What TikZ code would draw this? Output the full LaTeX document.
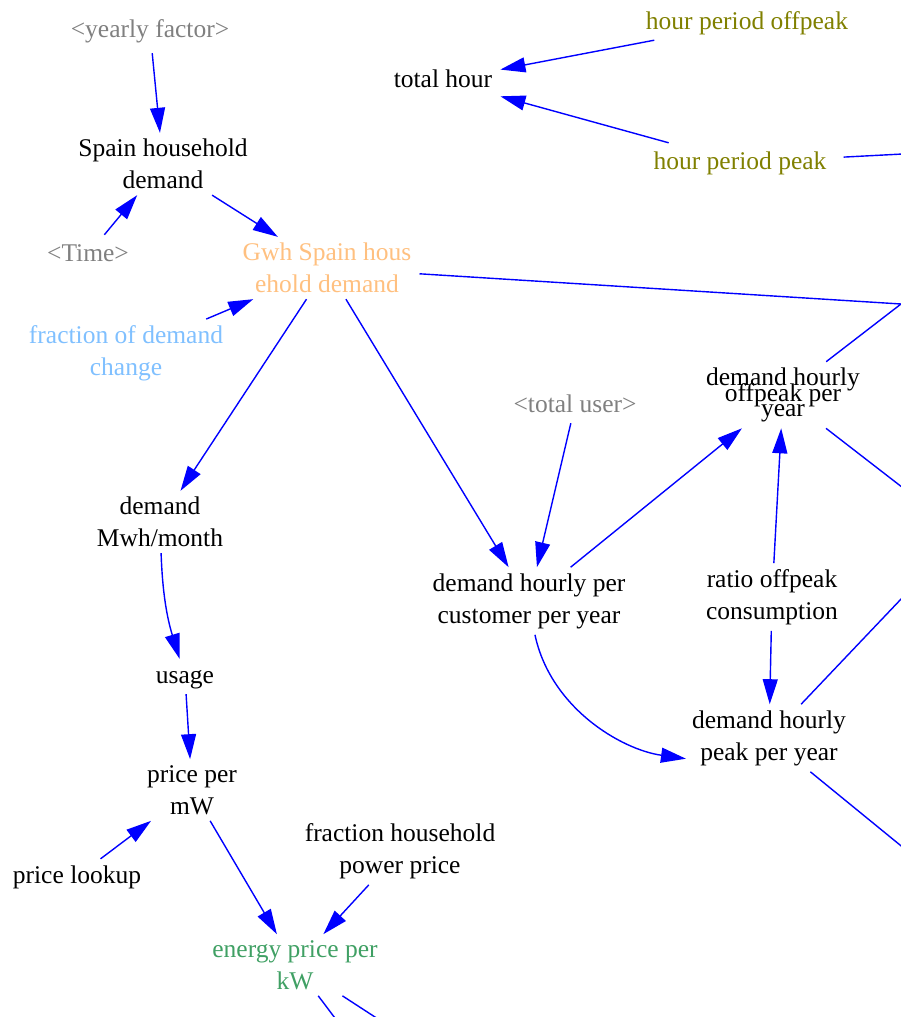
\documentclass[tikz,border=0pt]{standalone}
\usepackage{fontspec}
\setmainfont{Liberation Serif}
\usetikzlibrary{arrows.meta}

\definecolor{linkblue}{RGB}{0,0,255}
\definecolor{shadowgray}{RGB}{128,128,128}
\definecolor{olivetext}{RGB}{128,128,0}
\definecolor{peachtext}{RGB}{255,192,128}
\definecolor{skytext}{RGB}{128,192,255}
\definecolor{greentext}{RGB}{64,160,100}

% squeezed line spacing used by one crowded label
\newcommand\squeezedlines{\fontsize{25.5}{15.5}\selectfont\lineskiplimit=-100pt\relax}

\tikzset{
  var/.style={inner xsep=8pt, inner ysep=6pt, align=center,
    font=\fontsize{25.5}{32}\selectfont},
  oneline/.style={var, text height=18pt, text depth=5pt},
  shadow/.style={oneline, text=shadowgray},
  link/.style={draw=linkblue, line width=1.4pt,
    -{Triangle[length=25pt,width=15pt]}},
  stub/.style={draw=linkblue, line width=1.4pt},
}

\begin{document}
\begin{tikzpicture}[x=1pt, y=-1pt]
\useasboundingbox (0,0) rectangle (901,1017);
\clip (0,0) rectangle (901,1017);

% variables
\node[shadow, inner ysep=11pt] (yf) at (150,30.5) {<yearly factor>};
\node[oneline] (th)  at (443,80.5) {total hour};
\node[oneline, text=olivetext, inner xsep=17pt] (hpo) at (747,22.5)  {hour period offpeak};
\node[oneline, text=olivetext, inner xsep=17pt, inner ysep=8pt] (hpp) at (740,162.5) {hour period peak};
\node[var]    (shd) at (163,164) {Spain household\\demand};
\node[shadow, inner ysep=8pt] (tm) at (88,254.5) {<Time>};
\node[var, text=peachtext] (gwh) at (327,268) {Gwh Spain hous\\ehold demand};
\node[var, text=skytext]   (fdc) at (126,353) {fraction of demand\\change};
\node[shadow] (tu)  at (575,405.5) {<total user>};
\node[var, font=\squeezedlines] (dho) at (783,395) {demand hourly\\offpeak per\\year};
\node[var]    (dmm) at (160,522) {demand\\Mwh/month};
\node[var]    (dhc) at (529,601) {demand hourly per\\customer per year};
\node[var]    (roc) at (772,597) {ratio offpeak\\consumption};
\node[oneline] (us) at (185,676.5) {usage};
\node[var, inner xsep=6pt] (dhp) at (769,738) {demand hourly\\peak per year};
\node[var]    (ppm) at (192,790) {price per\\mW};
\node[var]    (fhp) at (400,851) {fraction household\\power price};
\node[oneline] (pl) at (77,876.5) {price lookup};
\node[var, text=greentext] (ep) at (295,965) {energy price per\\kW};

% targets lying beyond the frame
\coordinate (xR) at (901,304);
\coordinate (xA) at (960,151);
\coordinate (xB) at (960,532);
\coordinate (xC) at (960,537);
\coordinate (xD) at (960,894);
\coordinate (xE) at (344,1030);
\coordinate (xF) at (395,1030);

% links
\draw[link] (yf) -- (shd);
\draw[link] (tm) -- (shd);
\draw[link] (shd) -- (gwh);
\draw[link] (fdc) -- (gwh);
\draw[link] (gwh) -- (dmm);
\draw[link] (gwh) -- (dhc);
\draw[stub] (gwh) -- (xR);
\draw[stub] (dho) -- (xR);
\draw[link] (hpo) -- (th);
\draw[link] (hpp) -- (th);
\draw[stub] (hpp) -- (xA);
\draw[link] (tu) -- (dhc);
\draw[link] (dhc) -- (dho);
\draw[link] (roc) -- (dho);
\draw[link] (roc) -- (dhp);
\draw[link] (dhc.280) .. controls +(78:75) and +(188:65) .. (dhp.194);
\draw[stub] (dho) -- (xB);
\draw[stub] (dhp) -- (xC);
\draw[stub] (dhp) -- (xD);
\draw[link] (dmm) to[out=-88, in=107] (us);
\draw[link] (us) -- (ppm);
\draw[link] (pl) -- (ppm);
\draw[link] (ppm) -- (ep);
\draw[link] (fhp) -- (ep);
\draw[stub] (ep) -- (xE);
\draw[stub] (ep) -- (xF);
\end{tikzpicture}
\end{document}
